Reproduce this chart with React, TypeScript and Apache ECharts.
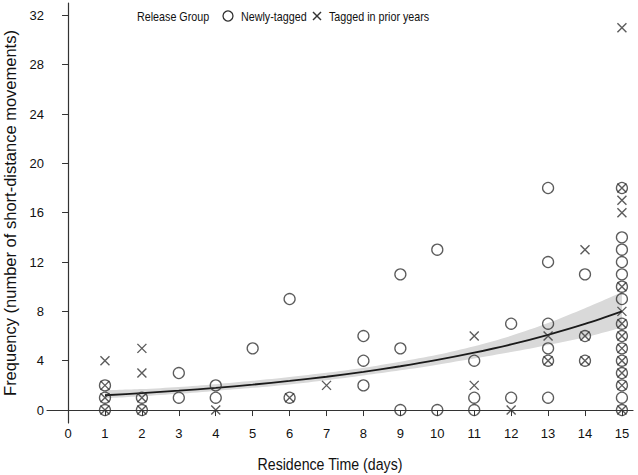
import React, { useEffect, useRef } from "react";
import * as echarts from "echarts";

// ---- Data ----
const xTicks = [0, 1, 2, 3, 4, 5, 6, 7, 8, 9, 10, 11, 12, 13, 14, 15];
const yTicks = [0, 4, 8, 12, 16, 20, 24, 28, 32];

// Newly-tagged fish: [residence days, frequency]
const newlyTagged: [number, number][] = [
  [1, 0], [1, 1], [1, 2],
  [2, 0], [2, 1],
  [3, 1], [3, 3],
  [4, 1], [4, 2],
  [5, 5],
  [6, 1], [6, 9],
  [8, 2], [8, 4], [8, 6],
  [9, 0], [9, 5], [9, 11],
  [10, 0], [10, 13],
  [11, 0], [11, 1], [11, 4],
  [12, 1], [12, 7],
  [13, 1], [13, 4], [13, 5], [13, 7], [13, 12], [13, 18],
  [14, 4], [14, 6], [14, 11],
  [15, 0], [15, 1], [15, 2], [15, 3], [15, 4], [15, 5], [15, 6], [15, 7],
  [15, 9], [15, 10], [15, 11], [15, 12], [15, 13], [15, 14], [15, 18],
];

// Tagged in prior years: [residence days, frequency]
const priorYears: [number, number][] = [
  [1, 0], [1, 1], [1, 2], [1, 4],
  [2, 0], [2, 1], [2, 3], [2, 5],
  [4, 0],
  [6, 1],
  [7, 2],
  [11, 2], [11, 6],
  [12, 0],
  [13, 4], [13, 6],
  [14, 4], [14, 6], [14, 13],
  [15, 0], [15, 2], [15, 3], [15, 4], [15, 5], [15, 6], [15, 7], [15, 8],
  [15, 10], [15, 16], [15, 17], [15, 18], [15, 31],
];

// Fitted curve and confidence band
const fitDays = [1, 2, 3, 4, 5, 6, 7, 8, 9, 10, 11, 12, 13, 14, 15];
const fitMean = [1.2, 1.37, 1.57, 1.8, 2.06, 2.36, 2.7, 3.1, 3.55, 4.06, 4.65, 5.32, 6.1, 6.98, 8.0];
const fitLower = [0.95, 1.12, 1.32, 1.55, 1.8, 2.08, 2.42, 2.8, 3.22, 3.68, 4.18, 4.7, 5.28, 5.9, 6.7];
const fitUpper = [1.6, 1.7, 1.87, 2.1, 2.37, 2.68, 3.02, 3.43, 3.92, 4.48, 5.18, 6.02, 7.05, 8.25, 9.55];

const FONT = "'Liberation Sans', Arial, sans-serif";
const INK = "#111";
const SQUEEZE = 0.86;

export default function App() {
  const ref = useRef<HTMLDivElement>(null);
  useEffect(() => {
    if (!ref.current) return;
    const chart = echarts.init(ref.current, undefined, { renderer: "svg" });
    const legendText = (x: number, text: string) => ({
      type: "text",
      x,
      y: 16,
      scaleX: SQUEEZE,
      style: { text, fontSize: 12.5, fill: INK, fontFamily: FONT, textAlign: "left", textVerticalAlign: "middle" },
    });
    const option: any = {
      animation: false,
      backgroundColor: "#fff",
      textStyle: { fontFamily: FONT },
      grid: { left: 47, top: 3, width: 586, height: 420, containLabel: false, outerBoundsMode: "none" },
      xAxis: {
        type: "value",
        min: -0.57,
        max: 15.3,
        z: 10,
        axisLine: { show: true, lineStyle: { color: "#333", width: 1.2 } },
        axisTick: { show: true, length: 6, customValues: xTicks, lineStyle: { color: "#333" } },
        axisLabel: { customValues: xTicks, fontSize: 13, color: INK, margin: 4, fontFamily: FONT },
        splitLine: { show: false },
      },
      yAxis: {
        type: "value",
        min: -1.05,
        max: 33,
        z: 10,
        name: "Frequency (number of short-distance movements)",
        nameLocation: "middle",
        nameGap: 28,
        nameTextStyle: { fontSize: 16.5, color: INK, fontFamily: FONT },
        axisLine: { show: true, lineStyle: { color: "#333", width: 1.2 } },
        axisTick: { show: true, length: 6, customValues: yTicks, lineStyle: { color: "#333" } },
        axisLabel: { customValues: yTicks, fontSize: 13, color: INK, margin: 3, fontFamily: FONT },
        splitLine: { show: false },
      },
      graphic: [
        {
          type: "text",
          x: 330,
          y: 464,
          scaleX: SQUEEZE,
          style: { text: "Residence Time (days)", fontSize: 16.5, fill: INK, fontFamily: FONT, textAlign: "center", textVerticalAlign: "middle" },
        },
        legendText(137, "Release Group"),
        { type: "circle", shape: { cx: 228, cy: 16, r: 5 }, style: { fill: "none", stroke: "#333", lineWidth: 1.3 } },
        legendText(241, "Newly-tagged"),
        { type: "line", shape: { x1: 313, y1: 12, x2: 321, y2: 20 }, style: { stroke: "#333", lineWidth: 1.4 } },
        { type: "line", shape: { x1: 321, y1: 12, x2: 313, y2: 20 }, style: { stroke: "#333", lineWidth: 1.4 } },
        legendText(329, "Tagged in prior years"),
      ],
      series: [
        {
          // upper edge of the confidence band, filled down to the axis
          type: "line",
          data: fitDays.map((d, i) => [d, fitUpper[i]]),
          symbol: "none",
          smooth: 0.3,
          lineStyle: { opacity: 0 },
          areaStyle: { color: "#d9d9d9", opacity: 1, origin: "start" },
          silent: true,
          z: 1,
        },
        {
          // lower edge of the band, masking the fill below it
          type: "line",
          data: fitDays.map((d, i) => [d, fitLower[i]]),
          symbol: "none",
          smooth: 0.3,
          lineStyle: { opacity: 0 },
          areaStyle: { color: "#ffffff", opacity: 1, origin: "start" },
          silent: true,
          z: 1,
        },
        {
          type: "line",
          data: fitDays.map((d, i) => [d, fitMean[i]]),
          symbol: "none",
          smooth: 0.3,
          lineStyle: { color: "#1a1a1a", width: 1.8 },
          z: 2,
        },
        {
          type: "scatter",
          name: "Tagged in prior years",
          data: priorYears,
          symbol: "path://M0,0L10,10M10,0L0,10",
          symbolSize: 9,
          itemStyle: { color: "rgba(0,0,0,0)", borderColor: "#333", borderWidth: 1.4 },
          z: 3,
        },
        {
          type: "scatter",
          name: "Newly-tagged",
          data: newlyTagged,
          symbol: "circle",
          symbolSize: 11,
          itemStyle: { color: "rgba(0,0,0,0)", borderColor: "#333", borderWidth: 1.3 },
          z: 4,
        },
      ],
    };
    chart.setOption(option);
    return () => chart.dispose();
  }, []);
  return (
    <div
      ref={ref}
      style={{ position: "absolute", left: 0, top: 0, width: 638, height: 475 }}
    />
  );
}
